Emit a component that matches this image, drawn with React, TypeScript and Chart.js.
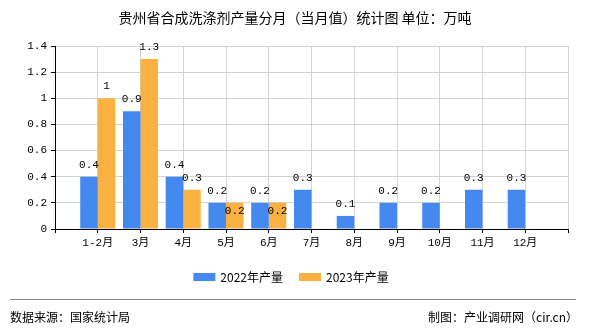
import React, { useEffect, useRef } from 'react';
import { Chart, registerables } from 'chart.js';

Chart.register(...registerables);

const chartTitle = '贵州省合成洗涤剂产量分月（当月值）统计图 单位：万吨';
const categories = ['1-2月', '3月', '4月', '5月', '6月', '7月', '8月', '9月', '10月', '11月', '12月'];
const output2022 = [0.4, 0.9, 0.4, 0.2, 0.2, 0.3, 0.1, 0.2, 0.2, 0.3, 0.3];
const output2023: (number | null)[] = [1, 1.3, 0.3, 0.2, 0.2, null, null, null, null, null, null];
const seriesNames = ['2022年产量', '2023年产量'];
const seriesColors = ['#4389EF', '#FBB142'];
const yTickValues = [0, 0.2, 0.4, 0.6, 0.8, 1, 1.2, 1.4];
const sourceText = '数据来源：国家统计局';
const creditText = '制图：产业调研网（cir.cn）';

const MONO = '"Liberation Mono", "Noto Sans CJK SC", monospace';
const CJK = '"Noto Sans CJK SC", "DejaVu Sans", sans-serif';

// pad categories with an empty slot on each side (axis spans a half-gap at both ends)
const paddedLabels = ['', ...categories, ''];
const pad = (arr: (number | null)[]) => [null, ...arr, null];

const overlayPlugin = {
  id: 'overlay',
  afterDatasetsDraw(chart: any) {
    const ctx = chart.ctx;
    ctx.save();
    ctx.font = `11px ${MONO}`;
    ctx.fillStyle = '#000';
    ctx.textAlign = 'center';
    ctx.textBaseline = 'alphabetic';
    const ds0 = chart.data.datasets[0].data;
    chart.data.datasets.forEach((ds: any, di: number) => {
      const meta = chart.getDatasetMeta(di);
      meta.data.forEach((bar: any, i: number) => {
        const v = ds.data[i];
        if (v === null || v === undefined) return;
        let y = bar.y - 9;
        if (di === 1 && ds0[i] !== null && Math.abs(ds0[i] - v) < 0.05) {
          y = bar.y + 11;
        }
        ctx.fillText(String(v), bar.x, y);
      });
    });
    ctx.restore();
  },
  afterDraw(chart: any) {
    const ctx = chart.ctx;
    const W = chart.width;
    ctx.save();
    // title
    ctx.fillStyle = '#000';
    ctx.font = `14px ${CJK}`;
    ctx.textAlign = 'center';
    ctx.textBaseline = 'middle';
    ctx.fillText(chartTitle, 295, 18);

    // legend
    ctx.font = `12px ${CJK}`;
    const boxW = 22, boxH = 8, gapText = 5, itemGap = 16;
    const widths = seriesNames.map((n) => boxW + gapText + ctx.measureText(n).width);
    const total = widths.reduce((a, b) => a + b, 0) + itemGap * (widths.length - 1);
    let x = 291 - total / 2;
    const ly = 277;
    seriesNames.forEach((n, i) => {
      ctx.fillStyle = seriesColors[i];
      ctx.fillRect(x, ly - boxH / 2, boxW, boxH);
      ctx.fillStyle = '#000';
      ctx.textAlign = 'left';
      ctx.textBaseline = 'middle';
      ctx.fillText(n, x + boxW + gapText, ly);
      x += widths[i] + itemGap;
    });

    // footer line
    ctx.strokeStyle = '#888';
    ctx.lineWidth = 1;
    ctx.beginPath();
    ctx.moveTo(10, 299.5);
    ctx.lineTo(W - 14, 299.5);
    ctx.stroke();

    // footer text
    ctx.fillStyle = '#000';
    ctx.font = `12px ${CJK}`;
    ctx.textBaseline = 'middle';
    ctx.textAlign = 'left';
    ctx.fillText(sourceText, 10, 317);
    ctx.textAlign = 'right';
    ctx.fillText(creditText, W - 12, 317);
    ctx.restore();
  },
};

export default function App() {
  const canvasRef = useRef<HTMLCanvasElement | null>(null);

  useEffect(() => {
    const canvas = canvasRef.current;
    if (!canvas) return;
    const chart = new Chart(canvas, {
      type: 'bar',
      data: {
        labels: paddedLabels,
        datasets: [
          {
            label: seriesNames[0],
            data: pad(output2022),
            backgroundColor: seriesColors[0],
            categoryPercentage: 0.82,
            barPercentage: 1,
          },
          {
            label: seriesNames[1],
            data: pad(output2023),
            backgroundColor: seriesColors[1],
            categoryPercentage: 0.82,
            barPercentage: 1,
          },
        ],
      },
      options: {
        responsive: false,
        animation: false,
        devicePixelRatio: 1,
        layout: { padding: { top: 46, right: 22, bottom: 76, left: 0 } },
        plugins: {
          legend: { display: false },
          title: { display: false },
          tooltip: { enabled: false },
        },
        scales: {
          x: {
            type: 'category',
            offset: false,
            grid: {
              display: true,
              offset: false,
              color: '#d3d3d3',
              lineWidth: 1,
              tickColor: '#000',
              tickLength: 4,
              drawTicks: true,
            },
            border: { display: true, color: '#000', width: 1 },
            ticks: {
              autoSkip: false,
              maxRotation: 0,
              minRotation: 0,
              padding: 3,
              color: '#000',
              font: { family: MONO, size: 11 },
            },
            afterFit: (scale: any) => {
              scale.height = 25;
            },
          },
          y: {
            min: 0,
            max: 1.4,
            afterBuildTicks: (scale: any) => {
              scale.ticks = yTickValues.map((v) => ({ value: v }));
            },
            grid: {
              color: '#d3d3d3',
              lineWidth: 1,
              tickColor: '#000',
              tickLength: 4,
            },
            border: { display: true, color: '#000', width: 1 },
            ticks: {
              padding: 4,
              color: '#000',
              font: { family: MONO, size: 11 },
              callback: (v: any) => String(Number(Number(v).toFixed(1))),
            },
            afterFit: (scale: any) => {
              scale.width = 55;
            },
          },
        },
      },
      plugins: [overlayPlugin],
    });
    return () => chart.destroy();
  }, []);

  return (
    <div style={{ position: 'absolute', left: 0, top: 0, width: 590, height: 330, background: '#fff' }}>
      <canvas ref={canvasRef} width={590} height={330} style={{ display: 'block' }} />
    </div>
  );
}
